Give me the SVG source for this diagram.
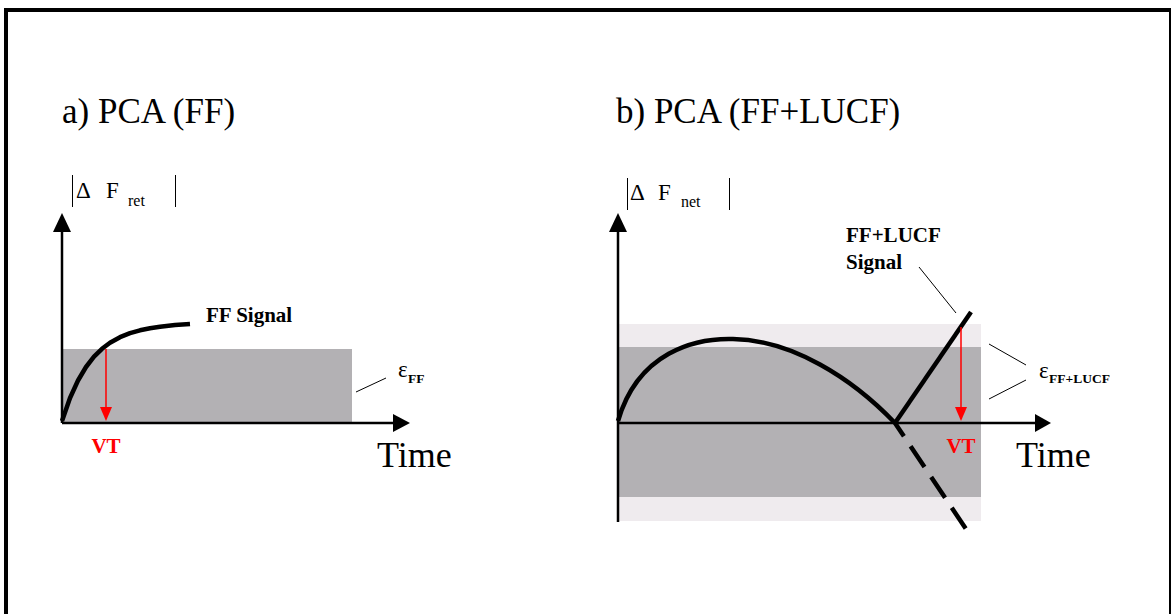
<svg xmlns="http://www.w3.org/2000/svg" width="1172" height="614" viewBox="0 0 1172 614">
<style>
.title{font-family:"Liberation Serif",serif;font-size:35px;fill:#000}
.time{font-family:"Liberation Serif",serif;font-size:36px;fill:#000}
.lbl{font-family:"Liberation Serif",serif;font-size:21px;font-weight:bold;fill:#000}
.vt{font-family:"Liberation Serif",serif;font-size:21px;font-weight:bold;fill:#ff0000}
.sym{font-family:"Liberation Serif",serif;font-size:23px;fill:#000}
.sub{font-family:"Liberation Serif",serif;font-size:16px;fill:#000}
.eps{font-family:"Liberation Serif",serif;font-size:23px;fill:#000}
.esub{font-family:"Liberation Serif",serif;font-size:13.5px;font-weight:bold;fill:#000}
.axis{stroke:#000;stroke-width:2.5;fill:none}
.sig{stroke:#000;stroke-width:4.5;fill:none;stroke-linejoin:round}
.thin{stroke:#000;stroke-width:1;fill:none}
.red{stroke:#ff0000;stroke-width:1.5;fill:none}
.dark{fill:#b3b1b4}
.light{fill:#efebee}
</style>
<rect x="0" y="0" width="1172" height="614" fill="#fff"/>
<g id="border">
<rect x="4" y="8" width="1167" height="4" fill="#000"/>
<rect x="4" y="8" width="4" height="606" fill="#000"/>
<rect x="1169" y="8" width="2" height="606" fill="#000"/>
</g>
<g id="panel-a">
<text class="title" x="62" y="123">a) PCA (FF)</text>
<rect class="dark" x="62" y="349" width="290" height="74"/>
<g id="a-ylabel">
<line class="thin" x1="72.5" y1="175" x2="72.5" y2="207"/>
<text class="sym" x="76" y="198">Δ</text>
<text class="sym" x="106" y="198">F</text>
<text class="sub" x="128" y="206">ret</text>
<line class="thin" x1="175.5" y1="175" x2="175.5" y2="207"/>
</g>
<g id="a-signal">
<polyline class="sig" points="62,421 70,398 78,380.5 86,367 94,356.7 102,348.8 110,342.8 120,337.2 130,333.2 140,330.3 150,328.2 160,326.7 175,325 190,324"/>
<text class="lbl" x="206" y="322">FF Signal</text>
</g>
<g id="a-vt">
<line class="red" x1="106" y1="349" x2="106" y2="408"/>
<polygon points="100,407 112,407 106,421" fill="#ff0000"/>
<text class="vt" x="106" y="453" text-anchor="middle">VT</text>
</g>
<g id="a-eps">
<line class="thin" x1="356" y1="392" x2="386" y2="378"/>
<text class="eps" x="398" y="377">ε</text>
<text class="esub" x="408" y="383">FF</text>
</g>
</g>
<g id="panel-b">
<text class="title" x="616" y="123">b) PCA (FF+LUCF)</text>
<rect class="light" x="618" y="324" width="363" height="197"/>
<rect class="dark" x="618" y="347" width="363" height="150"/>
<g id="b-ylabel">
<line class="thin" x1="627.5" y1="178" x2="627.5" y2="210"/>
<text class="sym" x="630" y="200">Δ</text>
<text class="sym" x="658" y="200">F</text>
<text class="sub" x="681" y="207">net</text>
<line class="thin" x1="729.5" y1="178" x2="729.5" y2="210"/>
</g>
<g id="b-signal">
<path class="sig" d="M618,421 C638,352 695,338 733,339 C792,340 852,378 895,423"/>
<line class="sig" x1="895" y1="423" x2="971" y2="312"/>
<line class="sig" x1="895" y1="423" x2="970" y2="535" stroke-dasharray="25 12" stroke-dashoffset="9"/>
<text class="lbl" x="846" y="242">FF+LUCF</text>
<text class="lbl" x="846" y="269">Signal</text>
<line class="thin" x1="919" y1="267" x2="956" y2="313"/>
</g>
<g id="b-vt">
<line class="red" x1="961" y1="327" x2="961" y2="408"/>
<polygon points="955,407 967,407 961,421" fill="#ff0000"/>
<text class="vt" x="961" y="453" text-anchor="middle">VT</text>
</g>
<g id="b-eps">
<line class="thin" x1="989" y1="344" x2="1026" y2="365"/>
<line class="thin" x1="989" y1="399" x2="1026" y2="380"/>
<text class="eps" x="1039" y="378">ε</text>
<text class="esub" x="1049" y="383">FF+LUCF</text>
</g>
</g>
<g id="connectors">
<line class="axis" x1="62" y1="423" x2="62" y2="230"/>
<polygon points="53,232 71,232 62,213" fill="#000"/>
<line class="axis" x1="62" y1="423" x2="395" y2="423"/>
<polygon points="393,414 393,432 410,423" fill="#000"/>
<text class="time" x="377" y="467">Time</text>
<line class="axis" x1="618" y1="522" x2="618" y2="230"/>
<polygon points="609,232 627,232 618,213" fill="#000"/>
<line class="axis" x1="618" y1="423" x2="1037" y2="423"/>
<polygon points="1035,414 1035,432 1051,423" fill="#000"/>
<text class="time" x="1016" y="467">Time</text>
</g>
</svg>
